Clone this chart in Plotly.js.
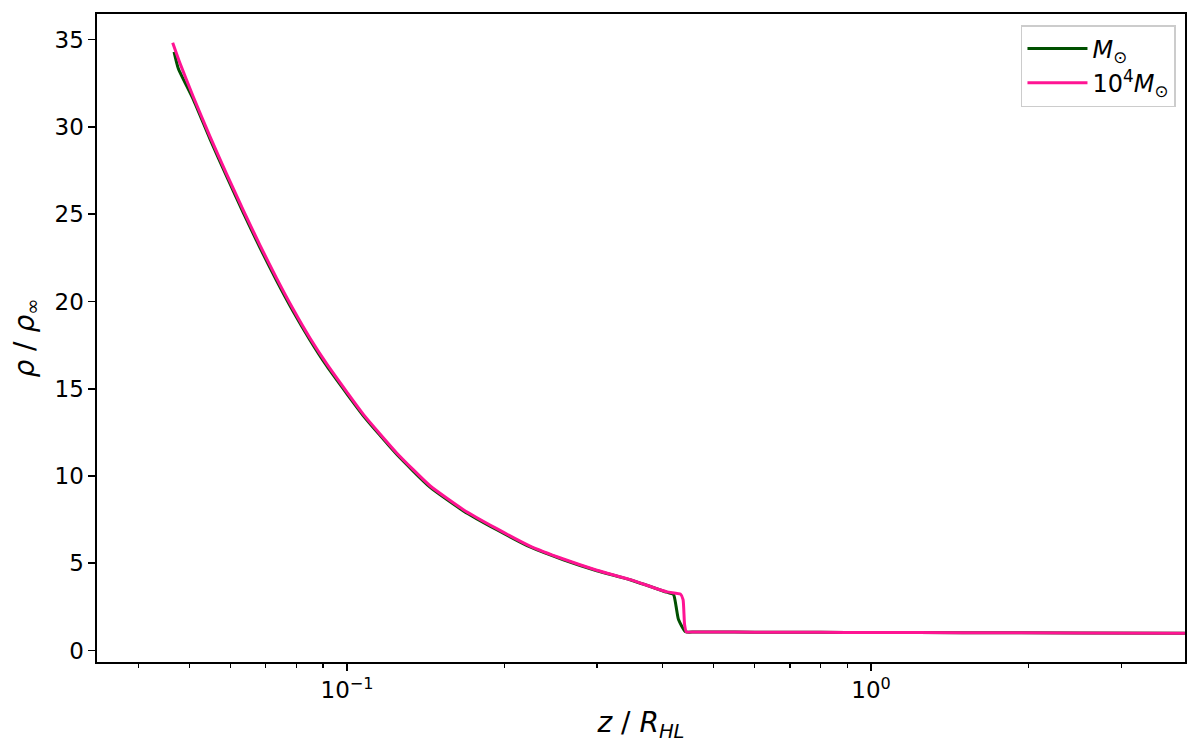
<!DOCTYPE html>
<html>
<head>
<meta charset="utf-8">
<script src="https://cdn.plot.ly/plotly-3.0.1.min.js"></script>
<style>
  html, body { margin: 0; padding: 0; background: #fff; }
  #plot { width: 1200px; height: 752px; }
</style>
</head>
<body>
<div id="plot"></div>
<script>
// density profile along the axis
var zSun = [0.04676, 0.04764, 0.05088, 0.05477, 0.05892, 0.0634, 0.06823, 0.0734, 0.07894, 0.085,
    0.09147, 0.09986, 0.10742, 0.12437, 0.14397, 0.16672, 0.19306, 0.22346, 0.25866, 0.29962,
    0.34674, 0.40745, 0.4197, 0.4244, 0.429, 0.4426, 0.46, 0.5, 0.6, 0.8, 1.0, 1.5, 2.5, 3.97];
var rhoSun = [34.30, 33.35, 31.58, 29.30, 27.16, 25.08, 23.07, 21.18, 19.42, 17.78,
    16.30, 14.72, 13.45, 11.24, 9.36, 8.00, 6.92, 5.93, 5.20, 4.57,
    4.05, 3.34, 3.21, 2.54, 1.77, 1.07, 1.06, 1.06, 1.05, 1.04, 1.03, 1.02, 1.00, 0.99];

var zBig = [0.04648, 0.048, 0.05088, 0.05477, 0.05892, 0.0634, 0.06823, 0.0734, 0.07894, 0.085,
    0.09147, 0.09986, 0.10742, 0.12437, 0.14397, 0.16672, 0.19306, 0.22346, 0.25866, 0.29962,
    0.34674, 0.40745, 0.4328, 0.4377, 0.4406, 0.4441, 0.46, 0.5, 0.6, 0.8, 1.0, 1.5, 2.5, 3.97];
var rhoBig = [34.82, 33.64, 31.73, 29.44, 27.30, 25.22, 23.21, 21.32, 19.55, 17.89,
    16.42, 14.82, 13.53, 11.32, 9.44, 8.07, 6.98, 5.98, 5.24, 4.60,
    4.06, 3.36, 3.23, 2.92, 1.49, 1.07, 1.06, 1.06, 1.05, 1.04, 1.03, 1.02, 1.00, 0.99];

var xMajor = [0.1, 1];
var xMajorText = ["10<sup>\u22121</sup>", "10<sup>0</sup>"];
var xMinor = [0.04, 0.05, 0.06, 0.07, 0.08, 0.09, 0.2, 0.3, 0.4, 0.5, 0.6, 0.7, 0.8, 0.9, 2, 3, 4];
var yTicks = [0, 5, 10, 15, 20, 25, 30, 35];

var trace1 = {
    x: zSun,
    y: rhoSun,
    name: "<i>M</i><sub>\u2299</sub>",
    type: "scatter",
    mode: "lines",
    line: {color: "#005000", width: 3, shape: "spline", smoothing: 0.5}
};

var trace2 = {
    x: zBig,
    y: rhoBig,
    name: "10<sup>4</sup><i>M</i><sub>\u2299</sub>",
    type: "scatter",
    mode: "lines",
    line: {color: "#ff1493", width: 3, shape: "spline", smoothing: 0.5}
};

var layout = {
    width: 1200,
    height: 752,
    margin: {l: 97, r: 15, t: 14, b: 89.5},
    paper_bgcolor: "#fff",
    plot_bgcolor: "#fff",
    font: {family: "DejaVu Sans, sans-serif", size: 23, color: "#000"},
    showlegend: true,
    legend: {
        x: 0.9917, xanchor: "right",
        y: 0.983, yanchor: "top",
        bgcolor: "rgba(255,255,255,0.8)",
        bordercolor: "#cccccc",
        borderwidth: 1.5,
        itemwidth: 60,
        font: {size: 24}
    },
    xaxis: {
        type: "log",
        range: [Math.log10(0.03333), Math.log10(3.972)],
        tickmode: "array",
        tickvals: xMajor,
        ticktext: xMajorText,
        ticks: "outside",
        ticklen: 7,
        tickwidth: 1.6,
        tickcolor: "#000",
        minor: {tickmode: "array", tickvals: xMinor, ticks: "outside", ticklen: 4, tickwidth: 1.2, tickcolor: "#000", showgrid: false},
        showgrid: false,
        zeroline: false,
        showline: true,
        mirror: true,
        linecolor: "#000",
        linewidth: 1.6,
        title: {text: "<i>z</i> / <i>R</i><sub><i>HL</i></sub>", standoff: 10}
    },
    yaxis: {
        range: [-0.66, 36.47],
        tickmode: "array",
        tickvals: yTicks,
        ticks: "outside",
        ticklen: 7,
        tickwidth: 1.6,
        tickcolor: "#000",
        showgrid: false,
        zeroline: false,
        showline: true,
        mirror: true,
        linecolor: "#000",
        linewidth: 1.6,
        title: {text: "<i>\u03c1</i> / <i>\u03c1</i><sub>\u221e</sub>", standoff: 12}
    }
};

Plotly.newPlot("plot", [trace1, trace2], layout, {displayModeBar: false, staticPlot: true});
</script>
</body>
</html>
